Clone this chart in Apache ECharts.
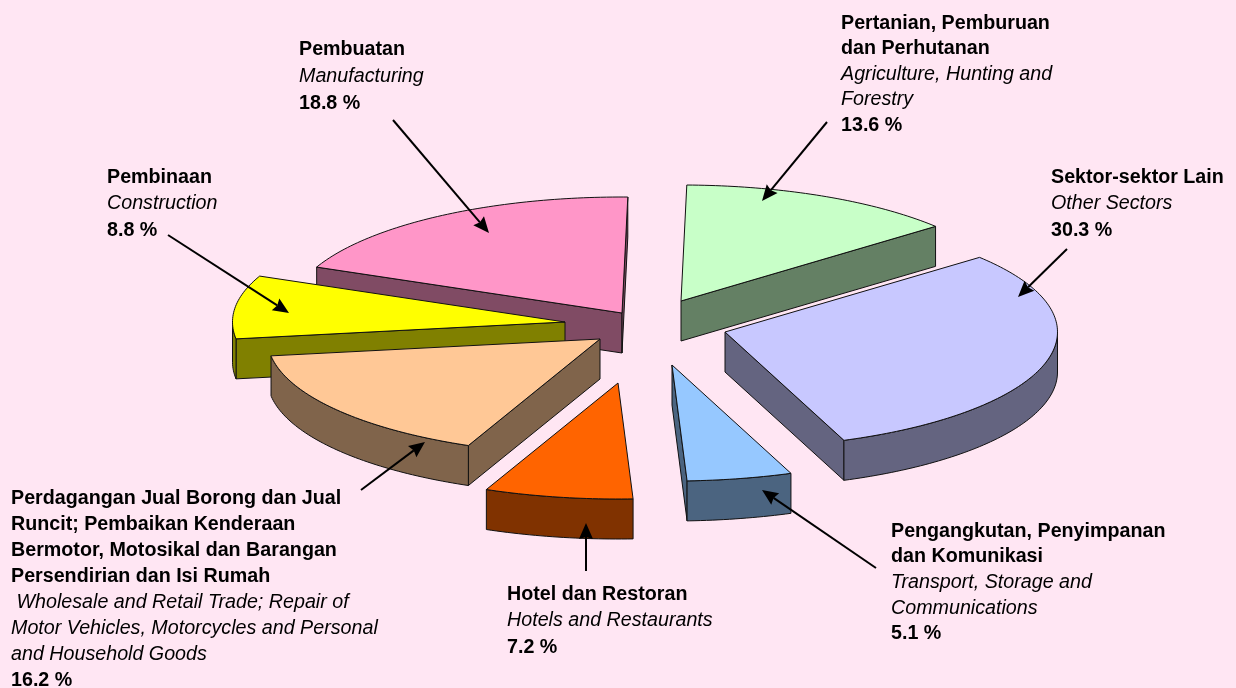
<!DOCTYPE html>
<html>
<head>
<meta charset="utf-8">
<style>html,body{margin:0;padding:0;background:#FFE6F3}#c{width:1236px;height:688px}</style>
<script src="https://cdn.jsdelivr.net/npm/echarts@6/dist/echarts.min.js"></script>
</head>
<body>
<div id="c"></div>
<script>
// ---- data (clockwise from the top) ----
const categories = ['Agriculture, Hunting and Forestry','Other Sectors','Transport, Storage and Communications','Hotels and Restaurants','Wholesale and Retail Trade; Repair of Motor Vehicles, Motorcycles and Personal and Household Goods','Construction','Manufacturing'];
const values = [13.6, 30.3, 5.1, 7.2, 16.2, 8.8, 18.8];
const malayLines = [
  ['Pertanian, Pemburuan','dan Perhutanan'],
  ['Sektor-sektor Lain'],
  ['Pengangkutan, Penyimpanan','dan Komunikasi'],
  ['Hotel dan Restoran'],
  ['Perdagangan Jual Borong dan Jual','Runcit; Pembaikan Kenderaan','Bermotor, Motosikal dan Barangan','Persendirian dan Isi Rumah'],
  ['Pembinaan'],
  ['Pembuatan']
];
const englishLines = [
  ['Agriculture, Hunting and','Forestry'],
  ['Other Sectors'],
  ['Transport, Storage and','Communications'],
  ['Hotels and Restaurants'],
  [' Wholesale and Retail Trade; Repair of','Motor Vehicles, Motorcycles and Personal','and Household Goods'],
  ['Construction'],
  ['Manufacturing']
];

// ---- styles and layout ----
const topColors  = ['#C8FFC8','#C8C8FF','#96C8FF','#FF6400','#FFC896','#FFFF00','#FF96C8'];
const sideColors = ['#648064','#646480','#4B6480','#803200','#80644B','#808000','#804B64'];
const paintOrder = [0, 6, 1, 5, 4, 3, 2];
const centre = [640, 335], RX = 332.5, RY = 116, DEPTH = 40, START_DEG = 1;
const explode = [[41,-34],[85,-3],[32,30],[-22,48],[-40,4],[-75,-13],[-18,-22]];
const labelBox = [
  {x:841,y:23,lh:25.5},{x:1051,y:177,lh:26.5},{x:891,y:531,lh:25.7},{x:507,y:594,lh:26.5},
  {x:11,y:498,lh:26},{x:107,y:177,lh:26.5},{x:299,y:49,lh:27}
];
const arrows = [
  [[827,122],[762,201]],[[1067,249],[1018,297]],[[876,568],[762,490]],[[586,571],[586,523]],
  [[361,490],[425,442]],[[168,235],[289,313]],[[393,120],[489,233]]
];
const FONT = '"Liberation Sans", Arial, sans-serif', FS = 20, TEXT_SQUEEZE = 0.984;

// angular spans computed from the values
const total = values.reduce((a, b) => a + b, 0);
let acc = START_DEG;
const spans = values.map(v => { const s = acc; acc += v / total * 360; return [s, acc]; });
const rim = (a, d, t) => {
  const r = t * Math.PI / 180;
  return [a[0] + RX * Math.sin(r), a[1] - RY * Math.cos(r) + d];
};

function renderSlice(params, api) {
  const i = api.value(0);
  const [s, e] = spans[i];
  const apex = [centre[0] + explode[i][0], centre[1] + explode[i][1]];
  const lineStyle = {stroke:'#111', lineWidth:1, lineJoin:'round'};
  const poly = (pts, fill) => ({type:'polygon', shape:{points:pts}, style:Object.assign({fill}, lineStyle), silent:true});
  const children = [];
  const down = p => [p[0], p[1] + DEPTH];
  const sinS = Math.sin(s * Math.PI / 180), sinE = Math.sin(e * Math.PI / 180);
  const A = rim(apex, 0, s), B = rim(apex, 0, e);
  if (sinS < 0) children.push(poly([apex, A, down(A), down(apex)], sideColors[i]));
  if (sinE > 0) children.push(poly([apex, B, down(B), down(apex)], sideColors[i]));
  const lo = Math.max(s, 90), hi = Math.min(e, 270);
  if (hi > lo) {
    const up = [], low = [];
    for (let t = lo; ; t += 1) {
      const tt = Math.min(t, hi);
      up.push(rim(apex, 0, tt)); low.unshift(rim(apex, DEPTH, tt));
      if (tt >= hi) break;
    }
    children.push(poly(up.concat(low), sideColors[i]));
  }
  const topPts = [apex];
  for (let t = s; ; t += 1) {
    const tt = Math.min(t, e);
    topPts.push(rim(apex, 0, tt));
    if (tt >= e) break;
  }
  children.push(poly(topPts, topColors[i]));
  return {type:'group', children};
}

// labels and arrows
const elements = [];
values.forEach((v, i) => {
  const b = labelBox[i];
  let y = b.y;
  const add = (text, font) => {
    elements.push({type:'text', silent:true, z:10, x:b.x, y, scaleX:TEXT_SQUEEZE, style:{text, x:0, y:0, font, fill:'#000', textVerticalAlign:'middle', textAlign:'left'}});
    y += b.lh;
  };
  malayLines[i].forEach(t => add(t, `bold ${FS}px ${FONT}`));
  englishLines[i].forEach(t => add(t, `italic ${FS}px ${FONT}`));
  add(v.toFixed(1) + ' %', `bold ${FS}px ${FONT}`);
  const [p, q] = arrows[i];
  const L = Math.hypot(q[0]-p[0], q[1]-p[1]), ux = (q[0]-p[0])/L, uy = (q[1]-p[1])/L;
  const HL = 16, HW = 7, NOTCH = 2;
  const bx = q[0]-ux*HL, by = q[1]-uy*HL;
  elements.push({type:'line', silent:true, z:11, shape:{x1:p[0],y1:p[1],x2:bx+ux*NOTCH,y2:by+uy*NOTCH}, style:{stroke:'#000', lineWidth:2}});
  elements.push({type:'polygon', silent:true, z:11, shape:{points:[[q[0],q[1]],[bx-uy*HW,by+ux*HW],[bx+ux*NOTCH,by+uy*NOTCH],[bx+uy*HW,by-ux*HW]]}, style:{fill:'#000'}});
});

const chart = echarts.init(document.getElementById('c'), null, {renderer:'canvas'});
chart.setOption({
  animation:false,
  backgroundColor:'#FFE6F3',
  graphic:{elements},
  series:[{
    type:'custom',
    coordinateSystem:'none',
    renderItem:renderSlice,
    encode:{value:[0,1]},
    data:paintOrder.map(i => ({name:categories[i], value:[i, values[i]]}))
  }]
});
</script>
</body>
</html>
